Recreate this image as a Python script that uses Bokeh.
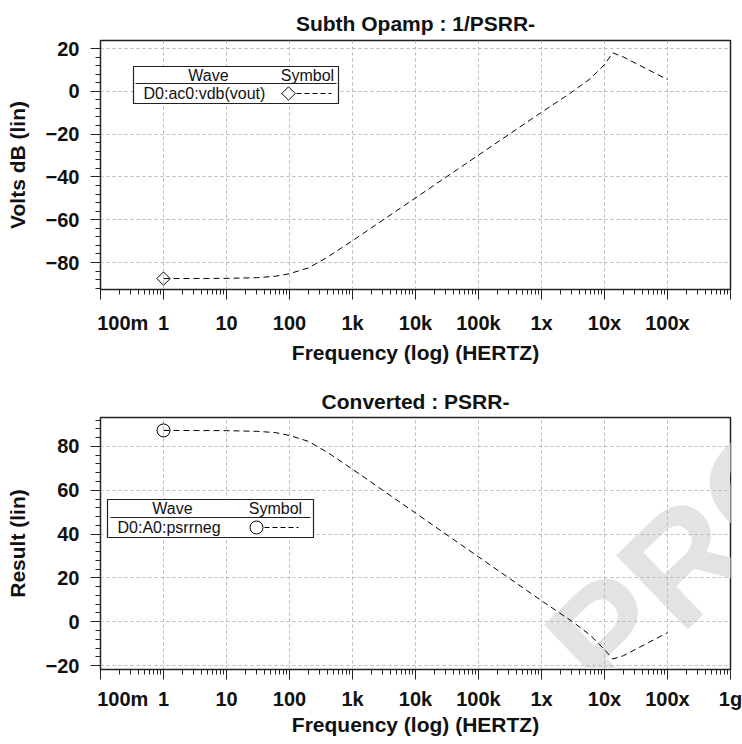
import math
from bokeh.plotting import figure
from bokeh.models import FixedTicker, CustomJSTickFormatter, Label, Range1d
from bokeh.layouts import column
from bokeh.embed import file_html
from bokeh.resources import INLINE

# ---------------- data ----------------
freq = [1, 10, 30, 60, 100, 200, 400, 1e3, 1e4, 1e5, 1e6, 3e6, 6e6, 1e7, 1.35e7, 2e7, 5e7, 1e8]
vdb_vout = [-87.5, -87.4, -87.1, -86.4, -85.2, -82.5, -77.5, -69.8, -49.8, -29.8, -9.8,
            -0.5, 6.0, 12.5, 18.0, 16.0, 10.0, 5.5]
psrrneg = [87.3, 87.2, 86.9, 86.3, 85.0, 82.3, 77.3, 69.6, 49.6, 29.6, 9.6,
           0.3, -6.2, -12.7, -17.0, -15.5, -9.5, -5.0]

NB = "\u00a0" * 8   # pushes the first label to the right of its tick, as in the reference
x_ticks = [0.1, 1, 10, 100, 1e3, 1e4, 1e5, 1e6, 1e7, 1e8, 1e9]
x_tick_labels_top = [NB + "100m", "1", "10", "100", "1k", "10k", "100k", "1x", "10x", "100x", ""]
x_tick_labels_bot = [NB + "100m", "1", "10", "100", "1k", "10k", "100k", "1x", "10x", "100x", "1g"]
x_minor = [m * 10 ** d for d in range(-1, 9) for m in range(2, 10)]

y_ticks_top = [-80, -60, -40, -20, 0, 20]
y_ticks_bot = [-20, 0, 20, 40, 60, 80]

FONT = "Liberation Sans"

# ---------------- geometry ----------------
FL, FW = 100, 630          # frame left / width (page px)
XLO, XHI = -1, 9           # log10 range


def xd(px):
    return 10 ** (XLO + (px - FL) / FW * (XHI - XLO))


def make_fig(title, ys, ye, ftop, fh, page_top, min_bottom, y_ticks, y_minor, ylabel,
             xlabels, lab_standoff, axlab_standoff, title_standoff):
    p = figure(x_axis_type="log", x_range=Range1d(0.1, 1e9), y_range=Range1d(ys, ye),
               frame_width=FW, frame_height=fh, min_border_left=FL, min_border_right=12,
               min_border_top=ftop - page_top, min_border_bottom=min_bottom,
               output_backend="svg", toolbar_location=None, title=title,
               background_fill_color="white", border_fill_color="white")

    def yd(py):
        return ye - (py - ftop) / fh * (ye - ys)

    p.title.align = "center"
    p.title.text_font = FONT
    p.title.text_font_size = "21px"
    p.title.text_font_style = "bold"
    p.title.text_color = "#111111"
    p.title.standoff = title_standoff

    p.outline_line_color = "#222222"
    p.outline_line_width = 1.5
    p.outline_line_alpha = 1

    xa = p.xaxis[0]
    xa.ticker = FixedTicker(ticks=x_ticks, minor_ticks=x_minor)
    xa.formatter = CustomJSTickFormatter(args=dict(xt=x_ticks, xl=xlabels), code="""
        for (let i = 0; i < xt.length; i++) {
            if (Math.abs(Math.log10(tick) - Math.log10(xt[i])) < 1e-6) return xl[i];
        }
        return "";
    """)
    xa.axis_label = "Frequency (log) (HERTZ)"
    ya = p.yaxis[0]
    ya.ticker = FixedTicker(ticks=y_ticks, minor_ticks=y_minor)
    ya.axis_label = ylabel
    for ax in (xa, ya):
        ax.major_tick_in = 0
        ax.minor_tick_in = 0
        ax.major_tick_out = 10
        ax.minor_tick_out = 5
        ax.axis_line_color = "#222222"
        ax.major_tick_line_color = "#222222"
        ax.minor_tick_line_color = "#222222"
        ax.major_label_text_font = FONT
        ax.major_label_text_font_size = "20px"
        ax.major_label_text_font_style = "bold"
        ax.major_label_text_color = "#111111"
        ax.axis_label_text_font = FONT
        ax.axis_label_text_font_size = "21px"
        ax.axis_label_text_font_style = "bold"
        ax.axis_label_text_color = "#111111"
    xa.major_label_standoff = lab_standoff
    xa.axis_label_standoff = axlab_standoff
    ya.major_label_standoff = 11
    ya.axis_label_standoff = 14

    p.xgrid.ticker = FixedTicker(ticks=x_ticks)
    p.ygrid.ticker = FixedTicker(ticks=y_ticks)
    for g in (p.xgrid, p.ygrid):
        g.grid_line_color = "#b8b8b8"
        g.grid_line_dash = "3 3"
        g.grid_line_width = 1
    return p, yd


def legend_label(p, x, y, text, align):
    p.add_layout(Label(x=x, y=y, text=text, text_align=align, text_baseline="middle",
                       text_font=FONT, text_font_size="16px", text_color="#111111"))


# ---------------- top figure ----------------
top_ys, top_ye = -92.6, 23.74
p1, yd1 = make_fig("Subth Opamp : 1/PSRR-", top_ys, top_ye, 40, 249, 0, 83,
                   y_ticks_top, [v for v in range(-92, 24, 4)], "Volts dB (lin)",
                   x_tick_labels_top, 12, 4, 12)

# legend box (top)
p1.quad(left=[xd(133)], right=[xd(338)], top=[yd1(66)], bottom=[yd1(103)],
        fill_color="white", line_color="#222222", line_width=1.2)
p1.line([xd(135), xd(336)], [yd1(83), yd1(83)], line_color="#222222", line_width=1)
legend_label(p1, xd(208), yd1(75), "Wave", "center")
legend_label(p1, xd(307), yd1(75), "Symbol", "center")
legend_label(p1, xd(143), yd1(93), "D0:ac0:vdb(vout)", "left")
p1.line([xd(288), xd(331)], [yd1(93), yd1(93)], line_color="black", line_dash="5 3", line_width=1)
p1.scatter([xd(288)], [yd1(93)], marker="square", angle=math.pi / 4, size=9.5,
           fill_color="white", line_color="black", line_width=1)

# data
p1.line(freq, vdb_vout, line_color="black", line_dash="6 4", line_width=1)
p1.scatter([freq[0]], [vdb_vout[0]], marker="square", angle=math.pi / 4, size=9.5,
           fill_alpha=0, line_color="black", line_width=1)

# ---------------- bottom figure ----------------
bot_ys, bot_ye = -21.8, 93.2
p2, yd2 = make_fig("Converted : PSRR-", bot_ys, bot_ye, 417, 252, 372, 75,
                   y_ticks_bot, [v for v in range(-20, 93, 4)], "Result (lin)",
                   x_tick_labels_bot, 8, 0, 10)

# watermark (only the part inside the plot area can be drawn)
p2.add_layout(Label(x=572, y=668 - 372, x_units="canvas", y_units="canvas", text="PROOF",
                    text_align="left", text_baseline="alphabetic", angle=44, angle_units="deg",
                    text_font=FONT, text_font_size="150px", text_font_style="bold",
                    text_color="#e3e3e3", level="image"))

# legend box (bottom)
p2.quad(left=[xd(107)], right=[xd(313)], top=[yd2(499)], bottom=[yd2(537)],
        fill_color="white", line_color="#222222", line_width=1.2)
p2.line([xd(110), xd(310)], [yd2(517), yd2(517)], line_color="#222222", line_width=1)
legend_label(p2, xd(172), yd2(508), "Wave", "center")
legend_label(p2, xd(275), yd2(508), "Symbol", "center")
legend_label(p2, xd(117), yd2(527), "D0:A0:psrrneg", "left")
p2.line([xd(256), xd(298)], [yd2(527), yd2(527)], line_color="black", line_dash="5 3", line_width=1)
p2.scatter([xd(256)], [yd2(527)], marker="circle", size=13, fill_color="white",
           line_color="black", line_width=1)

# data
p2.line(freq, psrrneg, line_color="black", line_dash="6 4", line_width=1)
p2.scatter([freq[0]], [psrrneg[0]], marker="circle", size=13, fill_alpha=0,
           line_color="black", line_width=1)

layout = column(p1, p2, spacing=0)
open("out.html", "w").write(file_html(layout, INLINE))
